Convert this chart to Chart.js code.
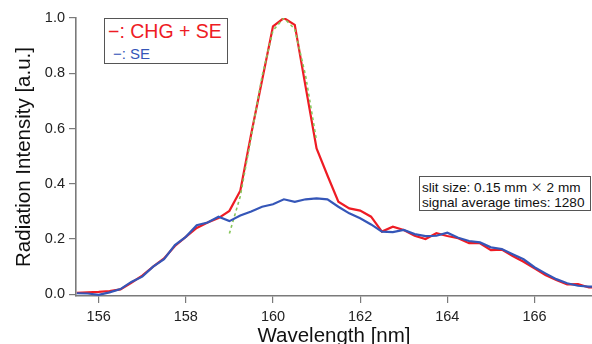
<!DOCTYPE html>
<html>
<head>
<meta charset="utf-8">
<script src="https://cdn.jsdelivr.net/npm/chart.js@4"></script>
<style>
  html, body { margin: 0; padding: 0; background: #fff; }
  #wrap { position: relative; width: 592px; height: 344px; overflow: hidden; }
  canvas { display: block; }
  .box { position: absolute; border: 1.3px solid #555; background: #fff; box-sizing: border-box; }
  #legend { left: 104px; top: 18px; width: 124px; height: 46px; font-family: "Liberation Sans", Arial, sans-serif; }
  #legend .l1 { position: absolute; left: 3px; top: 1px; font-size: 19.5px; color: #ee1c24; white-space: nowrap; }
  #legend .l2 { position: absolute; left: 8px; top: 26px; font-size: 15px; color: #3556b8; white-space: nowrap; }
  #note { left: 419px; top: 176px; width: 172px; height: 35px; font-family: "Liberation Sans", Arial, sans-serif; font-size: 13.6px; color: #111; line-height: 15px; padding: 2px 0 0 2px; white-space: nowrap; }
  #note .x { font-family: "Noto Sans CJK JP", sans-serif; font-size: 12px; }
</style>
</head>
<body>
<div id="wrap">
  <canvas id="c" width="592" height="354"></canvas>
  <div id="legend" class="box"><span class="l1">−: CHG + SE</span><span class="l2">−: SE</span></div>
  <div id="note" class="box">slit size: 0.15 mm <span class="x">×</span> 2 mm<br>signal average times: 1280</div>
</div>
<script>
// Wavelength grid [nm]
const wavelengths = [155.5,155.75,156.0,156.25,156.5,156.75,157.0,157.25,157.5,157.75,158.0,158.25,158.5,158.75,159.0,159.25,159.5,159.75,160.0,160.25,160.5,160.75,161.0,161.25,161.5,161.75,162.0,162.25,162.5,162.75,163.0,163.25,163.5,163.75,164.0,164.25,164.5,164.75,165.0,165.25,165.5,165.75,166.0,166.25,166.5,166.75,167.0,167.25,167.5];
// CHG + SE (red)
const chgSE = [0.005,0.007,0.009,0.012,0.018,0.042,0.068,0.100,0.130,0.175,0.208,0.240,0.260,0.276,0.302,0.375,0.580,0.775,0.970,1.000,0.975,0.750,0.528,0.430,0.335,0.311,0.303,0.281,0.227,0.245,0.233,0.212,0.200,0.221,0.211,0.203,0.185,0.185,0.160,0.162,0.139,0.118,0.094,0.070,0.052,0.036,0.037,0.025,0.024];
// SE only (blue)
const se = [0.004,0.003,-0.002,0.007,0.019,0.045,0.064,0.100,0.127,0.178,0.208,0.250,0.260,0.281,0.265,0.285,0.300,0.317,0.326,0.344,0.335,0.344,0.347,0.344,0.317,0.293,0.275,0.253,0.227,0.225,0.233,0.218,0.211,0.212,0.223,0.205,0.193,0.188,0.170,0.164,0.145,0.127,0.098,0.076,0.055,0.040,0.031,0.028,0.027];
// Fit (green dashed)
const fitWavelengths = [159.0,159.25,159.5,159.75,160.0,160.25,160.5,160.75,161.0];
const fitValues = [0.220,0.355,0.570,0.790,0.955,1.000,0.960,0.790,0.555];

const yTicks = [0, 0.2, 0.4, 0.6, 0.8, 1.0];
const xTicks = [156, 158, 160, 162, 164, 166];

const pts = (xs, ys) => xs.map((x, i) => ({ x: x, y: ys[i] }));

const axisColor = '#7a7a7a';
const tickFont = { family: '"Liberation Sans", Arial, sans-serif', size: 14.5 };
const titleFont = { family: '"Liberation Sans", Arial, sans-serif', size: 20.5 };

new Chart(document.getElementById('c'), {
  type: 'line',
  data: {
    datasets: [
      { label: 'SE', data: pts(wavelengths, se), borderColor: '#3556b8', borderWidth: 2.2, pointRadius: 0, tension: 0, order: 0 },
      { label: 'Fit', data: pts(fitWavelengths, fitValues), borderColor: '#86c55a', borderWidth: 1.6, borderDash: [3, 3], pointRadius: 0, tension: 0, order: 1 },
      { label: 'CHG + SE', data: pts(wavelengths, chgSE), borderColor: '#ee1c24', borderWidth: 2.2, pointRadius: 0, tension: 0, order: 2 }
    ]
  },
  options: {
    responsive: false,
    animation: false,
    layout: { padding: { top: 18, left: 0, right: 0, bottom: 0 } },
    plugins: { legend: { display: false }, tooltip: { enabled: false } },
    scales: {
      x: {
        type: 'linear',
        min: 155.48, max: 167.32,
        afterBuildTicks: s => { s.ticks = xTicks.map(v => ({ value: v })); },
        afterFit: s => { s.height = 58; },
        grid: { drawOnChartArea: false, drawTicks: true, tickLength: 7, color: axisColor, tickColor: axisColor, lineWidth: 1.2 },
        border: { display: true, color: axisColor, width: 1.6 },
        ticks: { color: '#222', font: tickFont, padding: 5, maxRotation: 0, callback: v => String(v) },
        title: { display: true, text: 'Wavelength [nm]', color: '#111', font: titleFont, padding: { top: 0, bottom: 5 } }
      },
      y: {
        type: 'linear',
        min: -0.006, max: 1.0,
        afterBuildTicks: s => { s.ticks = yTicks.map(v => ({ value: v })); },
        afterFit: s => { s.width = 76; },
        grid: { drawOnChartArea: false, drawTicks: true, tickLength: 7, color: axisColor, tickColor: axisColor, lineWidth: 1.2 },
        border: { display: true, color: axisColor, width: 1.6 },
        ticks: { color: '#222', font: tickFont, padding: 4, callback: v => v.toFixed(1) },
        title: { display: true, text: 'Radiation Intensity [a.u.]', color: '#111', font: titleFont, padding: { top: 12, bottom: 0 } }
      }
    }
  }
});
</script>
</body>
</html>
